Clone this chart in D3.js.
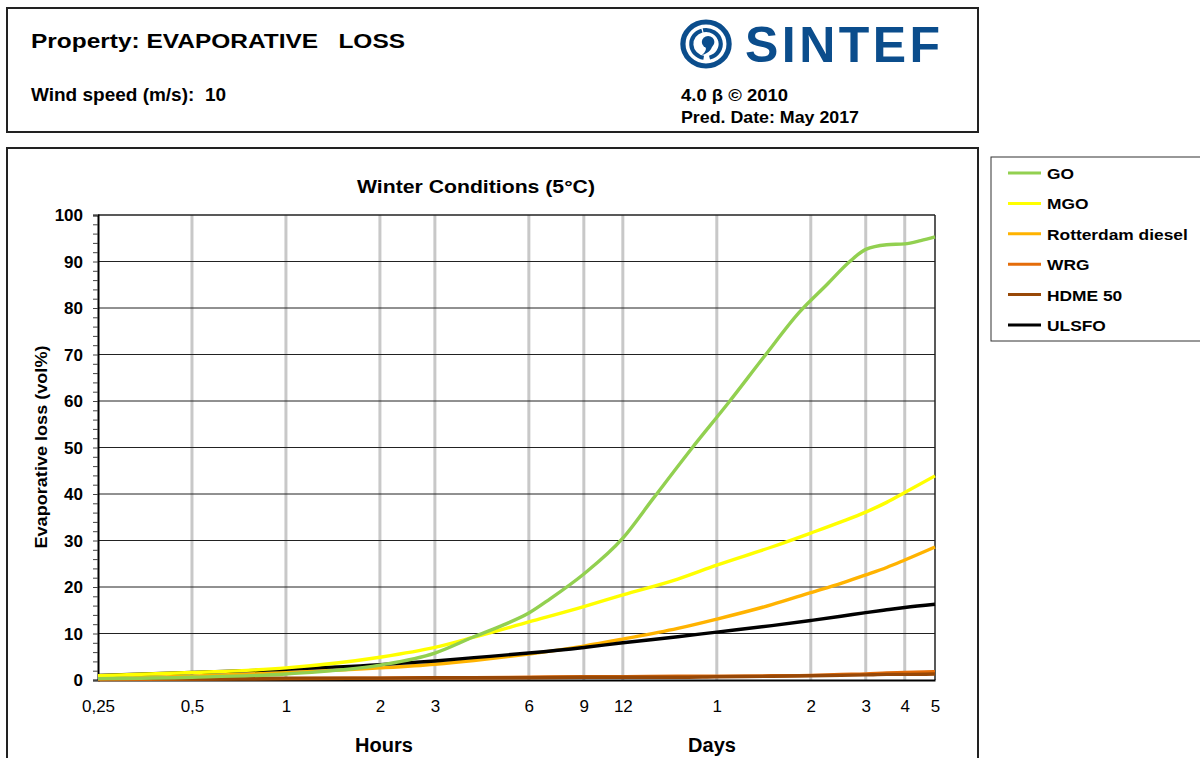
<!DOCTYPE html>
<html><head><meta charset="utf-8">
<script src="https://cdn.jsdelivr.net/npm/d3@7"></script>
<style>body{margin:0;background:#fff;} svg{display:block;font-family:"Liberation Sans",Arial,sans-serif;}</style>
</head><body>
<svg id="c" width="1200" height="758"></svg>
<script>
// ---- data ----
const goHours = [0.25, 0.5, 1, 2, 3, 4, 5, 6, 7, 9, 12, 15, 20, 26, 34, 44, 54, 64, 72, 84, 96, 108, 120];
const GO      = [0.3, 0.6, 1.3, 3.2, 5.8, 9.3, 11.9, 14.4, 17.4, 22.8, 30.5, 39.0, 49.9, 59.4, 69.5, 79.0, 85.0, 90.0, 92.6, 93.6, 93.8, 94.5, 95.3];
const hours = [0.25, 0.5, 1, 2, 3, 4, 6, 9, 12, 18, 24, 36, 48, 60, 72, 84, 96, 120];
const MGO  = [0.9, 1.6, 2.6, 4.9, 7.0, 9.2, 12.5, 15.8, 18.3, 21.7, 24.7, 28.6, 31.6, 34.0, 36.1, 38.2, 40.3, 43.9];
const ROT  = [0.3, 0.8, 1.6, 2.6, 3.4, 4.2, 5.6, 7.3, 8.8, 11.1, 13.1, 16.2, 18.8, 20.8, 22.6, 24.2, 25.8, 28.6];
const WRG  = [0.1, 0.2, 0.3, 0.4, 0.5, 0.5, 0.6, 0.7, 0.7, 0.8, 0.8, 0.9, 1.0, 1.2, 1.3, 1.5, 1.6, 1.8];
const HDME = [0.3, 0.3, 0.4, 0.4, 0.5, 0.5, 0.5, 0.6, 0.6, 0.6, 0.7, 0.8, 0.9, 1.0, 1.1, 1.2, 1.2, 1.3];
const ULSFO= [1.0, 1.6, 2.3, 3.3, 4.1, 4.8, 5.8, 7.0, 8.0, 9.3, 10.3, 11.7, 12.8, 13.7, 14.5, 15.1, 15.6, 16.3];
const seriesNames = ["GO", "MGO", "Rotterdam diesel", "WRG", "HDME 50", "ULSFO"];
const seriesColors = ["#92D050", "#FFFF00", "#FFB300", "#E46C0A", "#984807", "#000000"];
const seriesHours = [goHours, hours, hours, hours, hours, hours];
const seriesValues = [GO, MGO, ROT, WRG, HDME, ULSFO];
const xTickValues = [0.25, 0.5, 1, 2, 3, 6, 9, 12, 24, 48, 72, 96, 120];
const xTickLabels = ["0,25", "0,5", "1", "2", "3", "6", "9", "12", "1", "2", "3", "4", "5"];
const yTicks = [0, 10, 20, 30, 40, 50, 60, 70, 80, 90, 100];

const svg = d3.select("#c");
function stretch(sel, f) {
  sel.each(function () {
    const w = this.getComputedTextLength();
    d3.select(this).attr("textLength", w * f).attr("lengthAdjust", "spacingAndGlyphs");
  });
  return sel;
}

// ---- header box ----
svg.append("rect").attr("x", 7).attr("y", 8).attr("width", 971).attr("height", 124)
  .attr("fill", "#fff").attr("stroke", "#222").attr("stroke-width", 2);
svg.append("text").attr("x", 31).attr("y", 48).attr("font-size", 21).attr("font-weight", "bold")
  .attr("xml:space", "preserve").attr("textLength", 374).attr("lengthAdjust", "spacingAndGlyphs")
  .text("Property: EVAPORATIVE   LOSS");
svg.append("text").attr("x", 31).attr("y", 101).attr("font-size", 18).attr("font-weight", "bold")
  .attr("xml:space", "preserve").attr("textLength", 195).attr("lengthAdjust", "spacingAndGlyphs")
  .text("Wind speed (m/s):  10");
svg.append("text").attr("x", 681).attr("y", 101).attr("font-size", 17).attr("font-weight", "bold")
  .attr("textLength", 107).attr("lengthAdjust", "spacingAndGlyphs").text("4.0 β © 2010");
svg.append("text").attr("x", 681).attr("y", 123).attr("font-size", 17).attr("font-weight", "bold")
  .attr("textLength", 178).attr("lengthAdjust", "spacingAndGlyphs").text("Pred. Date: May 2017");

// logo
const logo = svg.append("g").attr("transform", "translate(706,44) scale(1.05,1)");
const blue = "#0B4D8C";
logo.append("circle").attr("r", 22).attr("fill", "none").attr("stroke", blue).attr("stroke-width", 5);
const arc = d3.arc();
logo.append("path").attr("fill", blue).attr("d", arc({innerRadius: 12, outerRadius: 16, startAngle: -0.2, endAngle: 2.9}));
logo.append("path").attr("fill", blue).attr("d", arc({innerRadius: 12, outerRadius: 16, startAngle: 3.3, endAngle: 6.0}));
logo.append("circle").attr("cx", 2).attr("cy", -2).attr("r", 6).attr("fill", blue);
logo.append("path").attr("fill", blue).attr("d", "M6,-2 Q7,8 -4,11 Q2,6 -1,2 Z");
svg.append("text").attr("x", 745).attr("y", 62).attr("font-size", 50).attr("font-weight", "bold")
  .attr("fill", blue).attr("textLength", 195).attr("lengthAdjust", "spacing").text("SINTEF");

// ---- chart box ----
svg.append("rect").attr("x", 7).attr("y", 148).attr("width", 971).attr("height", 630)
  .attr("fill", "#fff").attr("stroke", "#222").attr("stroke-width", 2);

svg.append("text").attr("x", 476).attr("y", 193).attr("text-anchor", "middle").attr("font-size", 19)
  .attr("font-weight", "bold").attr("textLength", 238).attr("lengthAdjust", "spacingAndGlyphs")
  .text("Winter Conditions (5°C)");

const L = 98, R = 935, T = 215, B = 680;
const x = d3.scaleLog().domain([0.25, 120]).range([L, R]);
const y = d3.scaleLinear().domain([0, 100]).range([B, T]);

// vertical grid
svg.append("g").selectAll("line").data(xTickValues.slice(1, -1)).join("line")
  .attr("x1", d => x(d)).attr("x2", d => x(d)).attr("y1", T).attr("y2", B)
  .attr("stroke", "#c8c8c8").attr("stroke-width", 3);
// horizontal grid
svg.append("g").selectAll("line").data(yTicks.slice(1, -1)).join("line")
  .attr("x1", L).attr("x2", R).attr("y1", d => y(d)).attr("y2", d => y(d))
  .attr("stroke", "#222").attr("stroke-width", 1);

// frame top and right
svg.append("line").attr("x1", L).attr("x2", R).attr("y1", T).attr("y2", T).attr("stroke", "#222").attr("stroke-width", 1.5);
svg.append("line").attr("x1", R).attr("x2", R).attr("y1", T).attr("y2", B).attr("stroke", "#222").attr("stroke-width", 1.5);

// y axis
const yAxis = d3.axisLeft(y).tickValues(d3.range(0, 101, 2)).tickSize(5).tickFormat("");
const ya = svg.append("g").attr("transform", `translate(${L},0)`).call(yAxis);
ya.select(".domain").attr("stroke", "#000").attr("stroke-width", 2);
ya.selectAll(".tick line").attr("stroke", "#444");
svg.append("g").selectAll("text").data(yTicks).join("text")
  .attr("x", 83).attr("y", d => y(d) + 6).attr("text-anchor", "end").attr("font-size", 17)
  .attr("font-weight", "bold").text(d => d);

// x axis
const xAxis = d3.axisBottom(x).tickValues(xTickValues).tickSize(0)
  .tickFormat((d, i) => xTickLabels[i]);
const xa = svg.append("g").attr("transform", `translate(0,${B})`).call(xAxis);
xa.select(".domain").attr("stroke", "#000").attr("stroke-width", 2);
xa.selectAll("text").attr("font-size", 17).attr("font-family", "'Liberation Sans',Arial,sans-serif")
  .attr("fill", "#000").attr("y", 32).attr("dy", 0);

svg.append("text").attr("x", 384).attr("y", 752).attr("text-anchor", "middle").attr("font-size", 20)
  .attr("font-weight", "bold").text("Hours");
svg.append("text").attr("x", 712).attr("y", 752).attr("text-anchor", "middle").attr("font-size", 20)
  .attr("font-weight", "bold").text("Days");
svg.append("text").attr("transform", "translate(47,447) rotate(-90)").attr("text-anchor", "middle")
  .attr("font-size", 16).attr("font-weight", "bold").attr("textLength", 203)
  .attr("lengthAdjust", "spacingAndGlyphs").text("Evaporative loss (vol%)");

// lines
const line = d3.line().x(d => x(d[0])).y(d => y(d[1])).curve(d3.curveMonotoneX);
const drawOrder = [3, 4, 2, 5, 1, 0];
drawOrder.forEach(i => {
  svg.append("path").datum(seriesHours[i].map((h, k) => [h, seriesValues[i][k]]))
    .attr("d", line).attr("fill", "none").attr("stroke", seriesColors[i]).attr("stroke-width", 3.4)
    .attr("stroke-linejoin", "round");
});

// legend
svg.append("rect").attr("x", 991).attr("y", 157).attr("width", 215).attr("height", 184)
  .attr("fill", "#fff").attr("stroke", "#333").attr("stroke-width", 1);
const lg = svg.append("g").selectAll("g").data(seriesNames).join("g")
  .attr("transform", (d, i) => `translate(0,${173 + i * 30.4})`);
lg.append("line").attr("x1", 1008).attr("x2", 1041).attr("y1", 0).attr("y2", 0)
  .attr("stroke", (d, i) => seriesColors[i]).attr("stroke-width", 3);
stretch(lg.append("text").attr("x", 1047).attr("y", 6).attr("font-size", 15).attr("font-weight", "bold").text(d => d), 1.157);
</script>
</body></html>
